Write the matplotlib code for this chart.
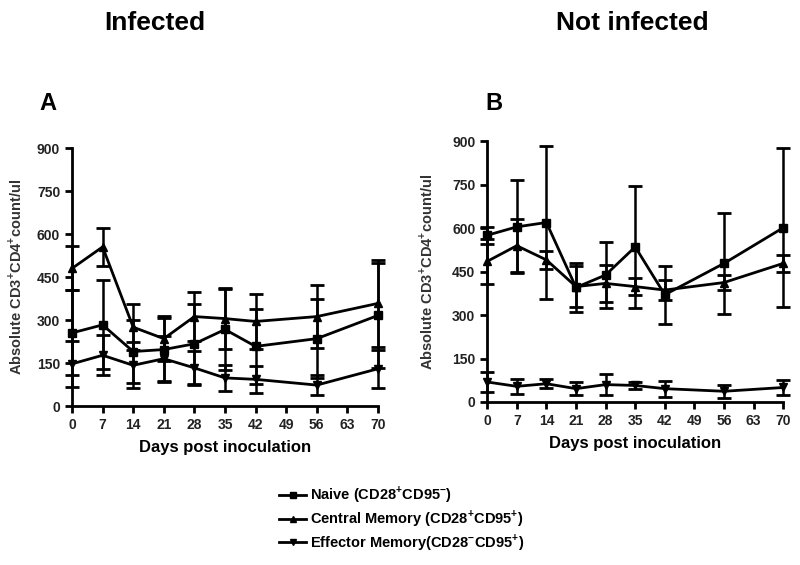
import matplotlib
matplotlib.use("Agg")
import matplotlib.pyplot as plt

plt.rcParams["font.family"] = ["Liberation Sans", "DejaVu Sans"]
plt.rcParams["font.weight"] = "bold"
plt.rcParams["mathtext.fontset"] = "custom"
plt.rcParams["mathtext.rm"] = "Liberation Sans:bold"
plt.rcParams["mathtext.bf"] = "Liberation Sans:bold"

# days post inoculation
days = [0, 7, 14, 21, 28, 35, 42, 56, 70]
xticks = [0, 7, 14, 21, 28, 35, 42, 49, 56, 63, 70]
yticks = [0, 150, 300, 450, 600, 750, 900]

# Infected (A)
inf_naive = [255, 283, 190, 197, 217, 267, 208, 235, 316]
inf_naive_err = [148, 155, 110, 110, 140, 140, 130, 138, 182]
inf_cm = [480, 555, 275, 235, 312, 305, 295, 312, 358]
inf_cm_err = [77, 65, 80, 78, 85, 105, 97, 110, 152]
inf_em = [147, 177, 142, 165, 133, 98, 93, 73, 130]
inf_em_err = [81, 70, 80, 80, 60, 45, 48, 35, 66]

# Not infected (B)
ni_naive = [575, 604, 619, 395, 438, 535, 370, 478, 601]
ni_naive_err = [30, 160, 265, 85, 113, 210, 100, 175, 274]
ni_cm = [485, 539, 490, 398, 409, 398, 386, 412, 478]
ni_cm_err = [78, 92, 30, 72, 65, 30, 35, 25, 30]
ni_em = [69, 54, 63, 46, 60, 57, 46, 37, 50]
ni_em_err = [35, 25, 15, 22, 37, 12, 28, 22, 25]

labels = [r"Naive (CD28$^{+}$CD95$^{-}$)",
          r"Central Memory (CD28$^{+}$CD95$^{+}$)",
          r"Effector Memory(CD28$^{-}$CD95$^{+}$)"]
markers = ["s", "^", "v"]

fig = plt.figure(figsize=(8, 5.65), dpi=100)
axA = fig.add_axes([0.09, 0.2814, 0.3825, 0.4566])
axB = fig.add_axes([0.609, 0.2885, 0.37, 0.4619])

ylab = r"Absolute CD3$^{+}$CD4$^{+}$count/ul"


def draw(ax, series):
    for (y, e), m, lab in zip(series, markers, labels):
        ax.errorbar(days, y, yerr=e, color="black", marker=m, markersize=6,
                    linewidth=2, elinewidth=1.8, capsize=5, capthick=2,
                    label=lab, clip_on=False)
    ax.set_xlim(0, 70)
    ax.set_ylim(0, 900)
    ax.set_xticks(xticks)
    ax.set_yticks(yticks)
    for s in ["top", "right"]:
        ax.spines[s].set_visible(False)
    for s in ["left", "bottom"]:
        ax.spines[s].set_linewidth(2)
    ax.tick_params(width=2, length=5, labelsize=10, colors="black")
    for t in ax.get_xticklabels() + ax.get_yticklabels():
        t.set_fontweight("bold")
        t.set_color("#222222")
    ax.set_xlabel("Days post inoculation", fontsize=12, fontweight="bold", labelpad=6)
    ax.set_ylabel(ylab, fontsize=10.5, fontweight="bold", color="#333333")


draw(axA, [(inf_naive, inf_naive_err), (inf_cm, inf_cm_err), (inf_em, inf_em_err)])
draw(axB, [(ni_naive, ni_naive_err), (ni_cm, ni_cm_err), (ni_em, ni_em_err)])

axA.yaxis.set_label_coords(-0.155, 0.5)
axB.yaxis.set_label_coords(-0.175, 0.5)

fig.text(0.194, 0.96, "Infected", fontsize=19, fontweight="bold", ha="center", va="center")
fig.text(0.79, 0.96, "Not infected", fontsize=19, fontweight="bold", ha="center", va="center")
fig.text(0.06, 0.817, "A", fontsize=17, fontweight="bold", ha="center", va="center")
fig.text(0.617, 0.817, "B", fontsize=17, fontweight="bold", ha="center", va="center")

leg = fig.legend(handles=[plt.Line2D([], [], color="black", marker=m, markersize=5, linewidth=2)
                          for m in markers],
                 labels=labels, loc="upper left", bbox_to_anchor=(0.342, 0.153),
                 frameon=False, fontsize=10.5, handlelength=1.8, handletextpad=0.3,
                 labelspacing=0.2, borderaxespad=0)
for t in leg.get_texts():
    t.set_fontweight("bold")

fig.savefig("out.png", dpi=100)
